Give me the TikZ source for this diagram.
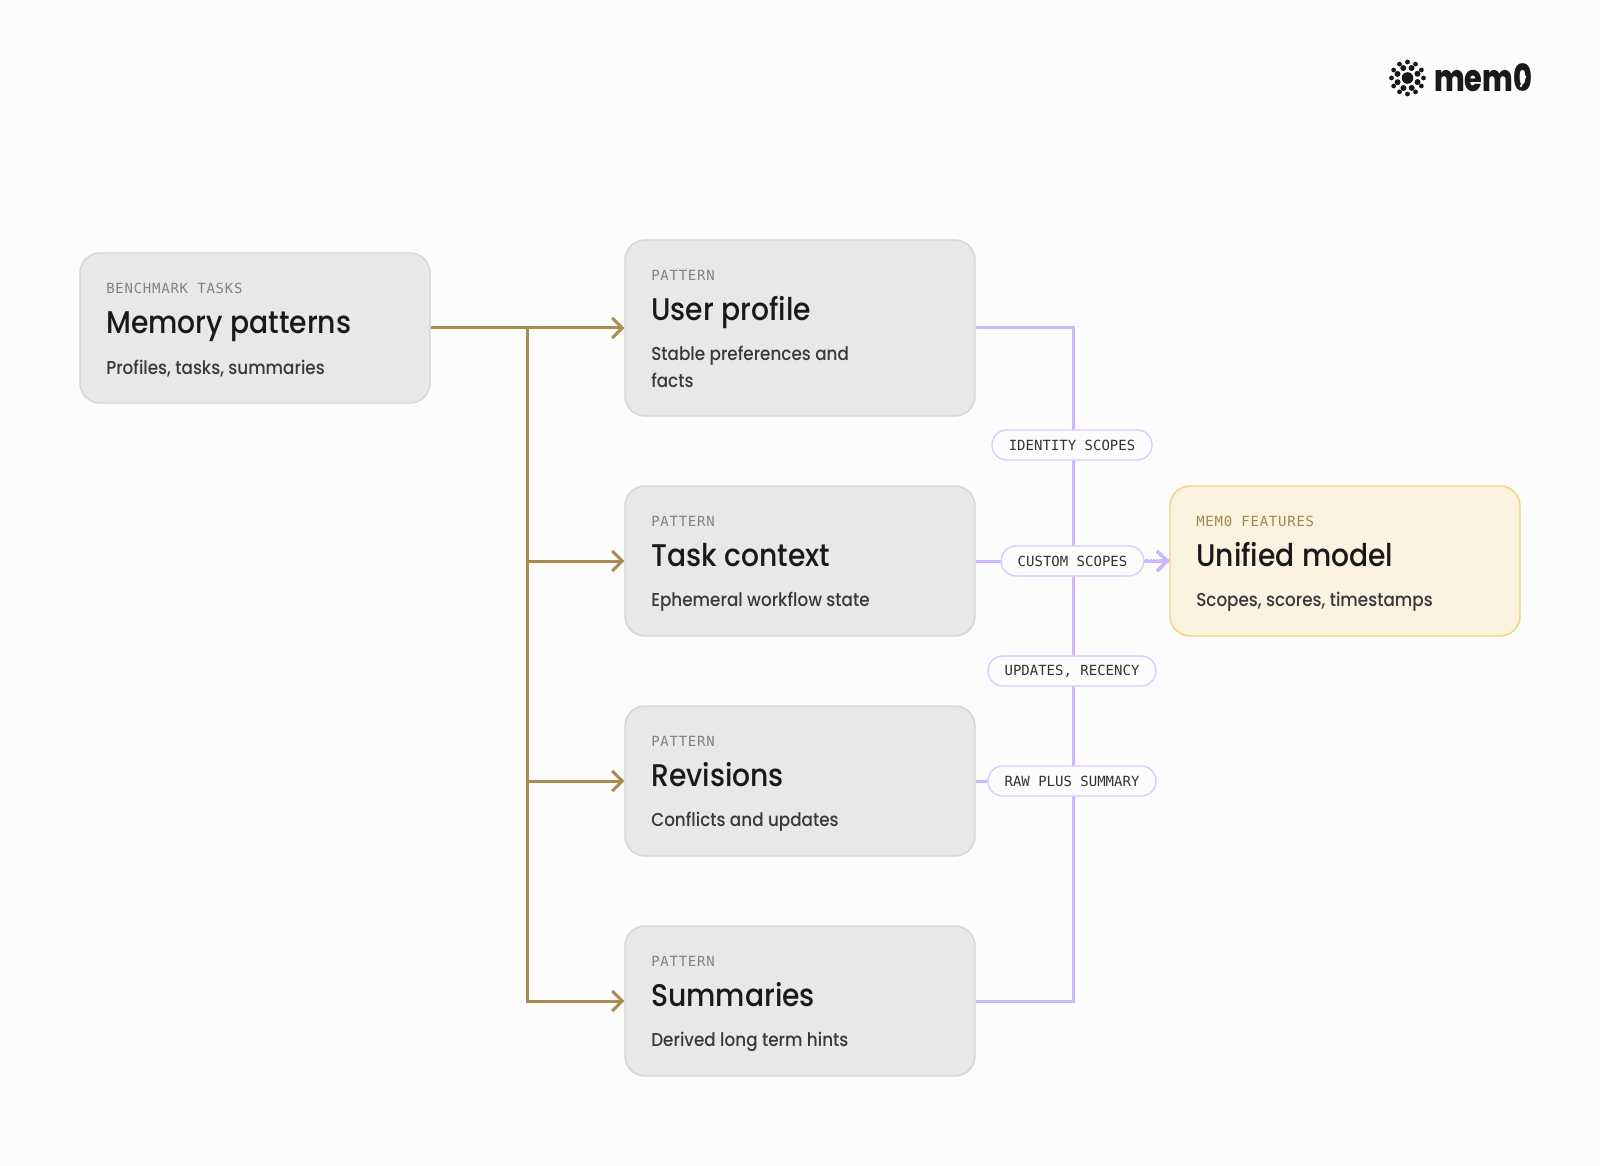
\documentclass[tikz,border=0pt]{standalone}
\usepackage{fontspec}
\setmainfont{Poppins}[UprightFont=* Medium,FakeStretch=0.90]
\setmonofont{DejaVu Sans Mono}
\newfontfamily\eyebrowfont{DejaVu Sans Mono}[LetterSpace=5.4]
\newfontfamily\logofont{Poppins}[UprightFont=* ExtraBold,FakeStretch=0.77]
\usetikzlibrary{arrows.meta}

\definecolor{pagebg}{HTML}{FCFCFC}
\definecolor{boxfill}{HTML}{E8E8E8}
\definecolor{boxline}{HTML}{D6D6D6}
\definecolor{modelfill}{HTML}{FBF2E0}
\definecolor{modelline}{HTML}{F5D27F}
\definecolor{goldline}{HTML}{A98C50}
\definecolor{violetline}{HTML}{CDB8FF}
\definecolor{pillline}{HTML}{D8C9FF}
\definecolor{eyebrowgray}{HTML}{85817C}
\definecolor{eyebrowgold}{HTML}{A08850}

\tikzset{
  card/.style={draw=boxline, fill=boxfill, line width=1.1pt, rounded corners=15pt, minimum width=262.5pt, inner sep=0pt},
  modelcard/.style={card, draw=modelline, fill=modelfill},
  eyebrow/.style={anchor=base west, inner sep=0pt, text=eyebrowgray, font=\eyebrowfont\fontsize{10.5}{12}\selectfont},
  cardtitle/.style={anchor=base west, inner sep=0pt, text=black!90, font=\fontsize{23.5}{28}\selectfont},
  cardsub/.style={anchor=base west, inner sep=0pt, text=black!78, font=\fontsize{14}{17}\selectfont},
  pill/.style={draw=pillline, fill=pagebg, line width=1pt, rounded corners=11.2pt, minimum height=22.5pt, inner sep=0pt, text=black!80, font=\ttfamily\fontsize{10.5}{12}\selectfont},
  goldarrow/.style={draw=goldline, line width=2.25pt, -{Straight Barb[length=7.5pt,width=15pt,line width=2.25pt]}},
  violetarrow/.style={draw=violetline, line width=2.25pt, -{Straight Barb[length=7.5pt,width=15pt,line width=2.25pt]}},
}

\begin{document}
\begin{tikzpicture}[x=0.75pt, y=-0.75pt]
  % page
  \fill[pagebg] (0,0) rectangle (1600,1166);
  \useasboundingbox (0,0) rectangle (1600,1166);

  % Source card
  \node[card, minimum height=112.5pt] (mem) at (255,328) {};
  \node[eyebrow] (mem-eb) at (106,293.5) {BENCHMARK TASKS};
  \node[cardtitle] (mem-ti) at (106,334) {Memory patterns};
  \node[cardsub] (mem-su) at (106,374) {Profiles, tasks, summaries};

  % The taller card has two lines of text
  \node[card, minimum height=132pt] (user) at (800,328) {};
  \node[eyebrow] (user-eb) at (651,280.5) {PATTERN};
  \node[cardtitle] (user-ti) at (651,320.5) {User profile};
  \node[cardsub] (user-su) at (651,360.5) {Stable preferences and};
  \node[cardsub] (user-sv) at (651,387.5) {facts};

  % The other patterns
  \foreach \n/\cy/\ti/\su in {task/561/Task context/Ephemeral workflow state,
                              rev/781/Revisions/Conflicts and updates,
                              sum/1001/Summaries/Derived long term hints} {
    \node[card, minimum height=112.5pt] (\n) at (800,\cy) {};
    \node[eyebrow] (\n-eb) at (651,\cy-35) {PATTERN};
    \node[cardtitle] (\n-ti) at (651,\cy+5) {\ti};
    \node[cardsub] (\n-su) at (651,\cy+45) {\su};
  }

  % Result card
  \node[modelcard, minimum height=112.5pt] (model) at (1345,561) {};
  \node[eyebrow, text=eyebrowgold] (model-eb) at (1196,526) {MEM0 FEATURES};
  \node[cardtitle] (model-ti) at (1196,566) {Unified model};
  \node[cardsub] (model-su) at (1196,606) {Scopes, scores, timestamps};

  % Gold fan out
  \coordinate (goldbus) at (527,328);
  \foreach \n in {user,task,rev,sum} {
    \draw[goldarrow] (mem.east) -- (goldbus) |- (\n.west);
  }

  % Violet fan in
  \coordinate (hub) at (1073,561);
  \foreach \n in {user,task,rev,sum} {
    \draw[violetarrow] (\n.east) -| (hub) -- (model.west);
  }

  % Labels sit on the lines
  \node[pill, minimum width=120pt] (p-id) at (1072,445) {IDENTITY SCOPES};
  \node[pill, minimum width=107pt] (p-cu) at (1072.5,561) {CUSTOM SCOPES};
  \node[pill, minimum width=126pt] (p-up) at (1072,671) {UPDATES, RECENCY};
  \node[pill, minimum width=126pt] (p-ra) at (1072,781) {RAW PLUS SUMMARY};

  % The merged stem looks heavier
  \draw[violetline, line width=3.6pt, dash pattern=on 1.6pt off 0.5pt] (p-cu.east) -- (model.west);

  % Logo
  \fill[black!90] (1407.5,78) circle (5.8);
  \foreach \a in {0,45,...,315} {
    \fill[black!90] (1407.5,78) ++(\a+22:10.8) circle (3);
  }
  \foreach \a in {0,30,...,330} {
    \fill[black!90] (1407.5,78) ++(\a:16) circle (2.4);
  }
  \node[anchor=base west, inner sep=0pt, text=black!90, font=\logofont\fontsize{28}{30}\selectfont] (logo) at (1434,92) {mem0};
  \draw[pagebg, line width=1.3pt] (1520.5,87) -- (1525.5,76);
\end{tikzpicture}
\end{document}
